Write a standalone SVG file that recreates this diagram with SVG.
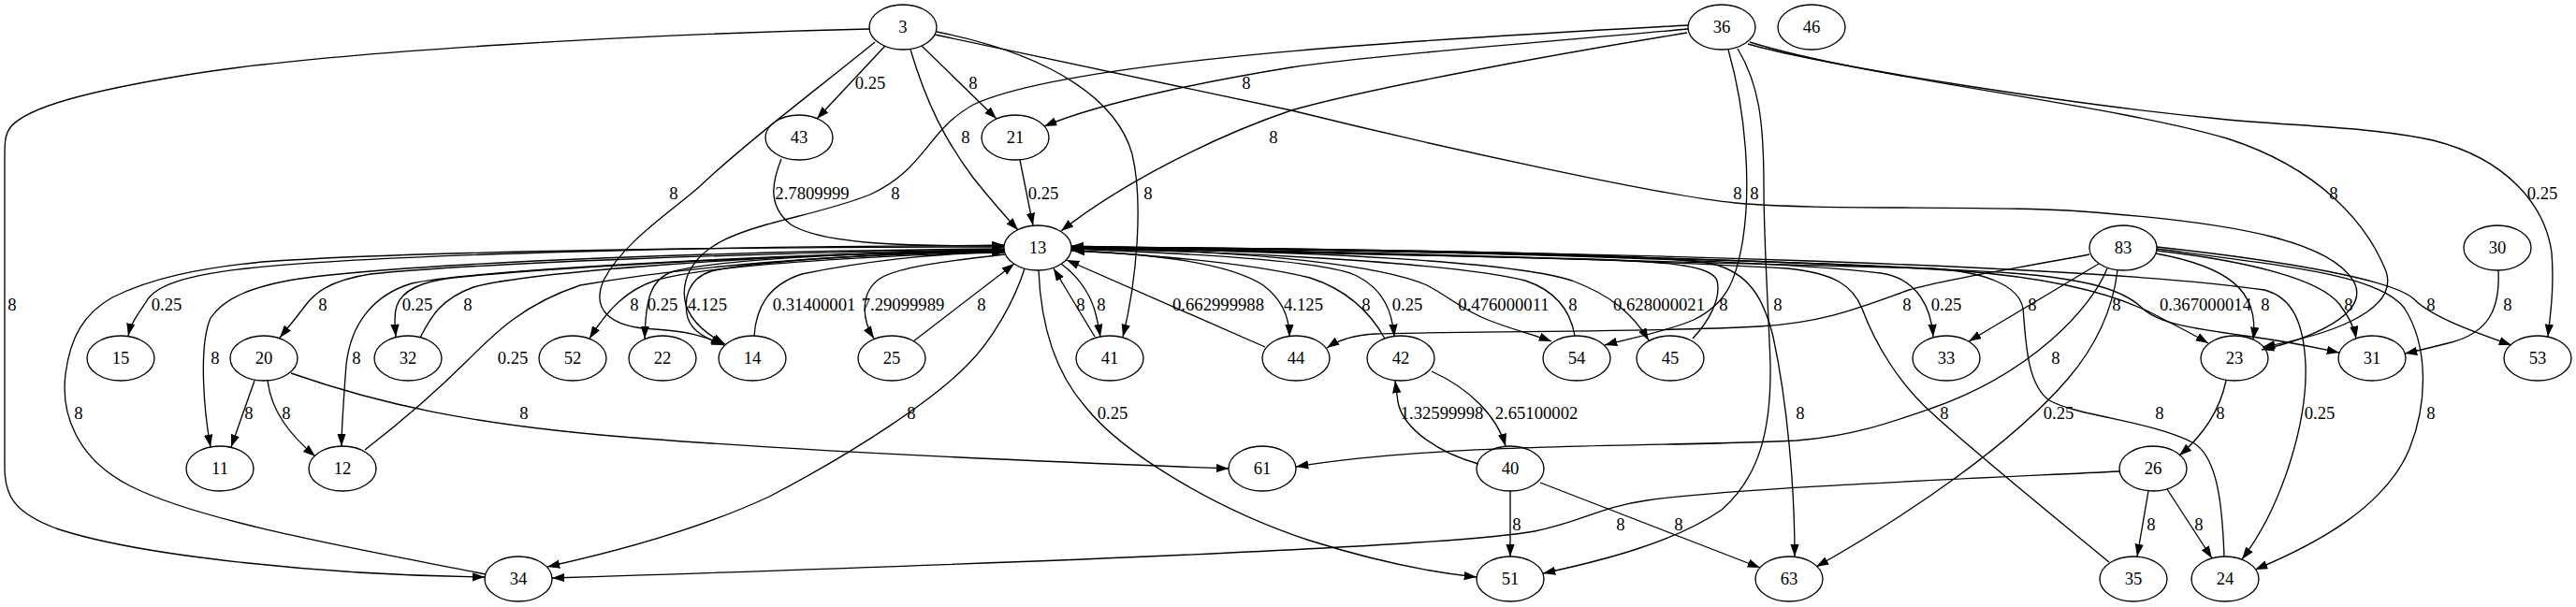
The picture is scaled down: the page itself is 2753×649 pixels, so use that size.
<svg xmlns="http://www.w3.org/2000/svg" width="2753" height="649" viewBox="0 0 2753 649">
<defs>
<marker id="a" markerUnits="userSpaceOnUse" markerWidth="14" markerHeight="10" refX="13.3" refY="4.67" orient="auto" viewBox="0 0 14 10"><path d="M0,0 L13.3,4.67 L0,9.33 z" fill="#000"/></marker>
<style>
.e path{fill:none;stroke:#000;stroke-width:1.33;marker-end:url(#a);}
.n ellipse{fill:none;stroke:#000;stroke-width:1.33;}
text{font-family:"Liberation Serif","Times New Roman",serif;font-size:18.67px;text-anchor:middle;fill:#000;}
</style>
</defs>
<rect width="2753" height="649" fill="#fff"/>
<g id="edges">
<g class="e" id="e-3-43"><path d="M946,49 L873,127"/><text x="930" y="95">0.25</text></g>
<g class="e" id="e-3-21"><path d="M985,49 L1065,127"/><text x="1040" y="95">8</text></g>
<g class="e" id="e-3-13"><path d="M973,53 C990,110 1010,150 1040,190 C1060,215 1075,232 1088,246"/><text x="1032" y="153">8</text></g>
<g class="e" id="e-3-41"><path d="M1001,34 C1130,60 1195,110 1210,165 C1222,215 1215,300 1200,360"/><text x="1227" y="213">8</text></g>
<g class="e" id="e-3-14"><path d="M935,45 C880,90 800,150 747,200 C715,228 665,260 645,300 C632,330 650,350 700,352 C735,354 755,360 773,369"/><text x="720" y="213">8</text></g>
<g class="e" id="e-3-34"><path d="M929,31 C700,36 350,55 200,80 C90,98 30,115 12,135 C6,142 5,150 5,165 L5,500 C5,530 15,548 60,565 C150,595 350,615 518,617"/><text x="13" y="332">8</text></g>
<g class="e" id="e-3-23"><path d="M999,37 C1150,70 1300,100 1380,118 C1550,160 1780,210 1855,217 C1950,226 2150,218 2250,228 C2400,240 2490,260 2515,300 C2535,335 2470,362 2417,374"/><text x="1857" y="213">8</text></g>
<g class="e" id="e-36-21"><path d="M1804,31 C1650,45 1460,60 1380,72 C1300,85 1180,108 1116,135"/><text x="1332" y="95">8</text></g>
<g class="e" id="e-36-13"><path d="M1803,35 C1650,60 1460,95 1380,118 C1300,145 1200,195 1134,247"/><text x="1361" y="153">8</text></g>
<g class="e" id="e-36-14"><path d="M1804,27 C1600,38 1150,60 1040,112 C990,140 990,180 930,208 C850,240 750,240 733,300 C725,330 745,352 775,368"/><text x="957" y="213">8</text></g>
<g class="e" id="e-36-54"><path d="M1847,53 C1866,120 1872,200 1862,260 C1855,300 1845,325 1810,342 C1780,355 1740,362 1715,369"/><text x="1875" y="213">8</text></g>
<g class="e" id="e-36-51"><path d="M1857,52 C1880,90 1885,130 1885,200 C1885,260 1890,330 1892,390 C1893,460 1880,510 1840,545 C1790,580 1710,600 1649,613"/><text x="1900" y="332">8</text></g>
<g class="e" id="e-36-23"><path d="M1870,45 C2000,85 2250,110 2380,148 C2480,180 2530,240 2550,290 C2565,335 2480,360 2418,371"/><text x="2494" y="213">8</text></g>
<g class="e" id="e-36-53"><path d="M1868,47 C1950,70 2200,110 2371,127 C2450,135 2530,135 2600,150 C2680,170 2720,220 2727,270 C2730,310 2725,340 2723,360"/><text x="2717" y="213">0.25</text></g>
<g class="e" id="e-43-13"><path d="M835,170 C825,195 820,220 845,240 C880,262 980,264 1073,262"/><text x="868" y="213">2.7809999</text></g>
<g class="e" id="e-21-13"><path d="M1090,171 L1104,241"/><text x="1115" y="213">0.25</text></g>
<g class="e" id="e-83-44"><path d="M2233,272 C2150,288 2080,298 2040,310 C1990,328 1950,345 1880,349 C1750,356 1550,354 1470,357 C1445,358 1430,364 1418,372"/><text x="2038" y="332">8</text></g>
<g class="e" id="e-83-33"><path d="M2243,282 L2104,365"/><text x="2172" y="332">8</text></g>
<g class="e" id="e-83-61"><path d="M2252,287 C2235,330 2170,400 2063,437 C2020,452 1980,466 1920,471 C1800,478 1550,472 1385,499"/><text x="2197" y="389">8</text></g>
<g class="e" id="e-83-63"><path d="M2263,289 C2258,330 2240,370 2210,405 C2150,475 2040,550 1941,606"/><text x="2200" y="448">0.25</text></g>
<g class="e" id="e-83-23"><path d="M2304,271 C2380,285 2415,310 2408,363"/><text x="2421" y="332">8</text></g>
<g class="e" id="e-83-31"><path d="M2305,268 C2410,280 2480,300 2500,325 C2510,338 2516,350 2518,362"/><text x="2510" y="332">8</text></g>
<g class="e" id="e-83-24"><path d="M2305,266 C2450,285 2545,295 2570,330 C2595,370 2595,430 2575,480 C2550,540 2480,580 2410,609"/><text x="2598" y="448">8</text></g>
<g class="e" id="e-83-53"><path d="M2305,264 C2450,280 2560,300 2580,320 C2600,340 2650,357 2684,369"/><text x="2598" y="332">8</text></g>
<g class="e" id="e-30-31"><path d="M2670,289 C2672,330 2660,355 2620,366 C2600,371 2585,375 2570,378"/><text x="2680" y="332">8</text></g>
<g class="e" id="e-13-44"><path d="M1145,268 C1250,272 1320,285 1350,305 C1370,320 1378,340 1378,360"/><text x="1393" y="332">4.125</text></g>
<g class="e" id="e-44-13"><path d="M1352,371 L1140,278"/><text x="1302" y="332">0.662999988</text></g>
<g class="e" id="e-42-13"><path d="M1480,362 C1465,335 1440,310 1400,297 C1330,280 1220,272 1146,268"/><text x="1460" y="332">8</text></g>
<g class="e" id="e-13-42"><path d="M1145,266 C1300,272 1420,280 1450,295 C1480,310 1488,335 1490,360"/><text x="1504" y="332">0.25</text></g>
<g class="e" id="e-13-54"><path d="M1145,265 C1350,268 1480,285 1525,305 C1550,318 1560,330 1590,342 C1615,352 1640,358 1658,365"/><text x="1607" y="332">0.476000011</text></g>
<g class="e" id="e-54-13"><path d="M1683,359 C1678,330 1660,310 1630,300 C1550,280 1300,268 1145,266"/><text x="1681" y="332">8</text></g>
<g class="e" id="e-13-45"><path d="M1145,265 C1400,268 1620,280 1680,300 C1720,315 1745,335 1762,364"/><text x="1773" y="332">0.628000021</text></g>
<g class="e" id="e-45-13"><path d="M1809,362 C1825,345 1840,320 1835,300 C1830,285 1790,280 1700,277 C1500,272 1300,268 1145,265"/><text x="1842" y="332">8</text></g>
<g class="e" id="e-13-63"><path d="M1145,264 C1500,266 1780,272 1830,282 C1870,292 1885,320 1895,360 C1910,430 1918,520 1918,595"/><text x="1924" y="448">8</text></g>
<g class="e" id="e-35-13"><path d="M2254,601 C2180,540 2100,475 2063,440 C2030,410 2005,370 1990,330 C1980,305 1960,292 1910,287 C1700,275 1350,267 1145,264"/><text x="2078" y="448">8</text></g>
<g class="e" id="e-24-13"><path d="M2377,595 C2375,540 2370,490 2345,474 C2300,450 2220,445 2190,428 C2165,410 2165,360 2162,330 C2158,305 2120,290 2063,287 C1700,276 1350,268 1145,263"/><text x="2308" y="448">8</text></g>
<g class="e" id="e-13-33"><path d="M1145,264 C1500,266 1900,278 2010,292 C2050,298 2064,330 2066,360"/><text x="2080" y="332">0.25</text></g>
<g class="e" id="e-13-23"><path d="M1145,264 C1600,268 1950,280 2100,290 C2200,298 2260,315 2300,335 C2325,348 2345,358 2360,367"/><text x="2262" y="332">8</text></g>
<g class="e" id="e-13-31"><path d="M1145,264 C1600,268 2000,282 2150,292 C2230,298 2270,310 2290,330 C2310,348 2350,352 2420,362 C2460,368 2485,374 2500,377"/><text x="2357" y="332">0.367000014</text></g>
<g class="e" id="e-13-24"><path d="M1145,264 C1700,267 2250,285 2420,310 C2450,318 2462,345 2464,390 C2466,450 2440,540 2396,598"/><text x="2479" y="448">0.25</text></g>
<g class="e" id="e-13-15"><path d="M1073,263 C800,262 400,272 264,287 C200,294 165,305 156,323 C148,335 140,345 137,359"/><text x="178" y="332">0.25</text></g>
<g class="e" id="e-34-13"><path d="M519,614 C400,590 220,560 140,520 C80,490 65,440 70,400 C75,360 90,335 120,318 C160,298 210,287 280,280 C450,268 800,264 1073,264"/><text x="84" y="448">8</text></g>
<g class="e" id="e-13-11"><path d="M1073,266 C800,268 450,280 320,298 C270,306 240,318 225,340 C212,370 218,440 225,478"/><text x="230" y="389">8</text></g>
<g class="e" id="e-13-20"><path d="M1073,267 C800,270 500,282 396,293 C350,300 335,315 326,327 C318,338 308,350 299,361"/><text x="345" y="332">8</text></g>
<g class="e" id="e-13-12"><path d="M1073,268 C800,272 500,290 440,303 C400,315 375,345 370,390 C367,430 365,460 365,477"/><text x="381" y="389">8</text></g>
<g class="e" id="e-13-32"><path d="M1073,268 C850,272 600,285 484,297 C450,301 430,310 424,327 C421,337 422,347 423,360"/><text x="446" y="332">0.25</text></g>
<g class="e" id="e-32-13"><path d="M449,361 C460,340 470,320 506,307 C560,292 800,272 1073,267"/><text x="500" y="332">8</text></g>
<g class="e" id="e-12-13"><path d="M390,481 C430,450 470,415 500,385 C530,355 560,325 620,305 C750,282 900,272 1073,269"/><text x="548" y="389">0.25</text></g>
<g class="e" id="e-13-52"><path d="M1073,269 C900,275 750,285 700,300 C670,310 650,330 630,362"/><text x="678" y="332">8</text></g>
<g class="e" id="e-13-22"><path d="M1073,268 C950,270 780,275 720,290 C695,298 690,320 689,362"/><text x="708" y="332">0.25</text></g>
<g class="e" id="e-13-14"><path d="M1073,268 C950,270 800,280 760,290 C735,298 730,320 735,340 C740,355 755,362 774,369"/><text x="756" y="332">4.125</text></g>
<g class="e" id="e-14-13"><path d="M806,359 C808,330 820,305 857,293 C920,280 1000,270 1073,270"/><text x="870" y="332">0.31400001</text></g>
<g class="e" id="e-13-25"><path d="M1074,272 C1020,278 960,285 940,298 C920,312 920,340 934,362"/><text x="965" y="332">7.29099989</text></g>
<g class="e" id="e-25-13"><path d="M976,365 L1084,282"/><text x="1049" y="332">8</text></g>
<g class="e" id="e-13-34"><path d="M1095,287 C1085,320 1060,365 1033,391 C1000,425 920,480 822,531 C760,560 680,585 585,606"/><text x="974" y="448">8</text></g>
<g class="e" id="e-13-51"><path d="M1110,289 C1112,340 1125,395 1160,435 C1200,485 1300,545 1400,578 C1470,600 1530,612 1578,617"/><text x="1189" y="448">0.25</text></g>
<g class="e" id="e-13-41"><path d="M1134,282 C1156,298 1168,320 1172,340 C1174,348 1175,354 1176,360"/><text x="1177" y="332">8</text></g>
<g class="e" id="e-41-13"><path d="M1170,360 L1126,287"/><text x="1155" y="332">8</text></g>
<g class="e" id="e-20-11"><path d="M272,407 L247,478"/><text x="266" y="448">8</text></g>
<g class="e" id="e-20-12"><path d="M286,407 C290,440 310,465 337,488"/><text x="306" y="448">8</text></g>
<g class="e" id="e-20-61"><path d="M311,399 C400,430 500,455 690,469 C900,485 1150,495 1313,501"/><text x="560" y="448">8</text></g>
<g class="e" id="e-42-40"><path d="M1530,397 C1570,415 1600,445 1609,477"/><text x="1642" y="448">2.65100002</text></g>
<g class="e" id="e-40-42"><path d="M1580,496 C1540,485 1500,460 1494,430 L1491,407"/><text x="1541" y="448">1.32599998</text></g>
<g class="e" id="e-40-51"><path d="M1614,525 L1614,595"/><text x="1621" y="567">8</text></g>
<g class="e" id="e-40-63"><path d="M1646,516 L1881,607"/><text x="1794" y="567">8</text></g>
<g class="e" id="e-23-26"><path d="M2379,407 C2372,440 2355,465 2329,487"/><text x="2373" y="448">8</text></g>
<g class="e" id="e-26-34"><path d="M2265,504 C2100,512 1850,522 1760,535 C1710,542 1690,558 1640,568 C1550,585 1000,605 590,618"/><text x="1732" y="567">8</text></g>
<g class="e" id="e-26-35"><path d="M2296,525 L2284,595"/><text x="2299" y="567">8</text></g>
<g class="e" id="e-26-24"><path d="M2316,523 L2364,597"/><text x="2350" y="567">8</text></g>
</g>
<g id="nodes">
<g class="n" id="n3"><ellipse cx="965" cy="29" rx="36" ry="24"/><text x="965" y="35">3</text></g>
<g class="n" id="n36"><ellipse cx="1840" cy="29" rx="36" ry="24"/><text x="1840" y="35">36</text></g>
<g class="n" id="n46"><ellipse cx="1936" cy="29" rx="36" ry="24"/><text x="1936" y="35">46</text></g>
<g class="n" id="n43"><ellipse cx="854" cy="147" rx="36" ry="24"/><text x="854" y="153">43</text></g>
<g class="n" id="n21"><ellipse cx="1085" cy="147" rx="36" ry="24"/><text x="1085" y="153">21</text></g>
<g class="n" id="n13"><ellipse cx="1109" cy="265" rx="36" ry="24"/><text x="1109" y="271">13</text></g>
<g class="n" id="n83"><ellipse cx="2269" cy="265" rx="36" ry="24"/><text x="2269" y="271">83</text></g>
<g class="n" id="n30"><ellipse cx="2669" cy="265" rx="36" ry="24"/><text x="2669" y="271">30</text></g>
<g class="n" id="n15"><ellipse cx="129" cy="383" rx="36" ry="24"/><text x="129" y="389">15</text></g>
<g class="n" id="n20"><ellipse cx="282" cy="383" rx="36" ry="24"/><text x="282" y="389">20</text></g>
<g class="n" id="n32"><ellipse cx="436" cy="383" rx="36" ry="24"/><text x="436" y="389">32</text></g>
<g class="n" id="n52"><ellipse cx="612" cy="383" rx="36" ry="24"/><text x="612" y="389">52</text></g>
<g class="n" id="n22"><ellipse cx="708" cy="383" rx="36" ry="24"/><text x="708" y="389">22</text></g>
<g class="n" id="n14"><ellipse cx="804" cy="383" rx="36" ry="24"/><text x="804" y="389">14</text></g>
<g class="n" id="n25"><ellipse cx="953" cy="383" rx="36" ry="24"/><text x="953" y="389">25</text></g>
<g class="n" id="n41"><ellipse cx="1186" cy="383" rx="36" ry="24"/><text x="1186" y="389">41</text></g>
<g class="n" id="n44"><ellipse cx="1385" cy="383" rx="36" ry="24"/><text x="1385" y="389">44</text></g>
<g class="n" id="n42"><ellipse cx="1497" cy="383" rx="36" ry="24"/><text x="1497" y="389">42</text></g>
<g class="n" id="n54"><ellipse cx="1685" cy="383" rx="36" ry="24"/><text x="1685" y="389">54</text></g>
<g class="n" id="n45"><ellipse cx="1785" cy="383" rx="36" ry="24"/><text x="1785" y="389">45</text></g>
<g class="n" id="n33"><ellipse cx="2080" cy="383" rx="36" ry="24"/><text x="2080" y="389">33</text></g>
<g class="n" id="n23"><ellipse cx="2388" cy="383" rx="36" ry="24"/><text x="2388" y="389">23</text></g>
<g class="n" id="n31"><ellipse cx="2535" cy="383" rx="36" ry="24"/><text x="2535" y="389">31</text></g>
<g class="n" id="n53"><ellipse cx="2712" cy="383" rx="36" ry="24"/><text x="2712" y="389">53</text></g>
<g class="n" id="n11"><ellipse cx="235" cy="501" rx="36" ry="24"/><text x="235" y="507">11</text></g>
<g class="n" id="n12"><ellipse cx="366" cy="501" rx="36" ry="24"/><text x="366" y="507">12</text></g>
<g class="n" id="n61"><ellipse cx="1349" cy="501" rx="36" ry="24"/><text x="1349" y="507">61</text></g>
<g class="n" id="n40"><ellipse cx="1614" cy="501" rx="36" ry="24"/><text x="1614" y="507">40</text></g>
<g class="n" id="n26"><ellipse cx="2301" cy="501" rx="36" ry="24"/><text x="2301" y="507">26</text></g>
<g class="n" id="n34"><ellipse cx="554" cy="619" rx="36" ry="24"/><text x="554" y="625">34</text></g>
<g class="n" id="n51"><ellipse cx="1614" cy="619" rx="36" ry="24"/><text x="1614" y="625">51</text></g>
<g class="n" id="n63"><ellipse cx="1912" cy="619" rx="36" ry="24"/><text x="1912" y="625">63</text></g>
<g class="n" id="n35"><ellipse cx="2280" cy="619" rx="36" ry="24"/><text x="2280" y="625">35</text></g>
<g class="n" id="n24"><ellipse cx="2378" cy="619" rx="36" ry="24"/><text x="2378" y="625">24</text></g>
</g>
</svg>
